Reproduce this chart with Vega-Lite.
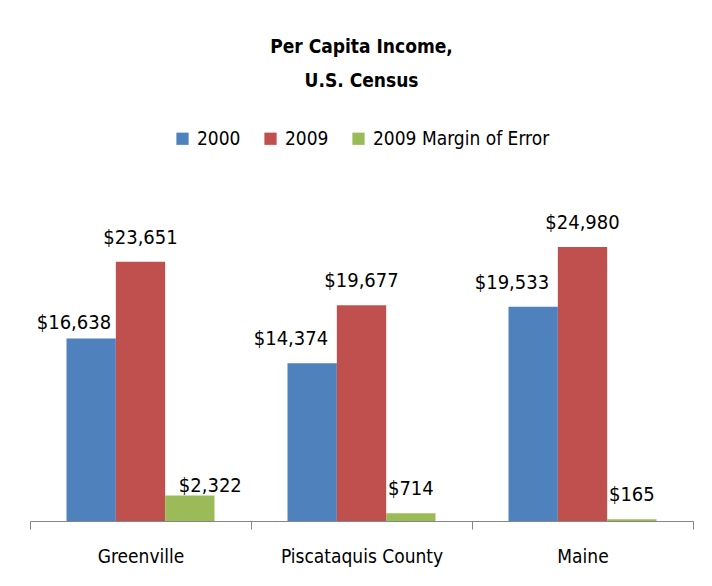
{
  "$schema": "https://vega.github.io/schema/vega-lite/v6.json",
  "width": 663,
  "height": 329,
  "autosize": {"type": "none"},
  "padding": {"left": 30, "top": 192, "right": 19, "bottom": 65},
  "background": "white",
  "title": {
    "text": ["Per Capita Income,", "U.S. Census"],
    "font": "DejaVu Sans Condensed",
    "fontSize": 19,
    "fontWeight": "bold",
    "color": "black",
    "lineHeight": 34,
    "anchor": "middle",
    "offset": 38
  },
  "data": {
    "values": [
      {"area": "Greenville", "series": "2000", "value": 16638},
      {"area": "Greenville", "series": "2009", "value": 23651},
      {"area": "Greenville", "series": "2009 Margin of Error", "value": 2322},
      {"area": "Piscataquis County", "series": "2000", "value": 14374},
      {"area": "Piscataquis County", "series": "2009", "value": 19677},
      {"area": "Piscataquis County", "series": "2009 Margin of Error", "value": 714},
      {"area": "Maine", "series": "2000", "value": 19533},
      {"area": "Maine", "series": "2009", "value": 24980},
      {"area": "Maine", "series": "2009 Margin of Error", "value": 165}
    ]
  },
  "encoding": {
    "x": {
      "field": "area",
      "type": "nominal",
      "sort": ["Greenville", "Piscataquis County", "Maine"],
      "scale": {"paddingInner": 0, "paddingOuter": 0},
      "axis": {
        "title": null,
        "labelAngle": 0,
        "labelFont": "DejaVu Sans Condensed",
        "labelFontSize": 19,
        "labelColor": "black",
        "labelPadding": 18,
        "labelLimit": 300,
        "domainColor": "#868686",
        "tickColor": "#868686",
        "tickSize": 8,
        "tickBand": "extent"
      }
    },
    "xOffset": {
      "field": "series",
      "type": "nominal",
      "sort": ["2000", "2009", "2009 Margin of Error"],
      "scale": {"paddingInner": 0, "paddingOuter": 0.74}
    },
    "y": {
      "field": "value",
      "type": "quantitative",
      "scale": {"domain": [0, 30000], "nice": false},
      "axis": null
    }
  },
  "layer": [
    {
      "mark": {"type": "bar"},
      "encoding": {
        "color": {
          "field": "series",
          "type": "nominal",
          "scale": {
            "domain": ["2000", "2009", "2009 Margin of Error"],
            "range": ["#4F81BD", "#C0504D", "#9BBB59"]
          },
          "legend": {
            "title": null,
            "orient": "top",
            "direction": "horizontal",
            "offset": 43,
            "labelFont": "DejaVu Sans Condensed",
            "labelFontSize": 19,
            "labelColor": "black",
            "labelLimit": 400,
            "symbolType": "square",
            "symbolSize": 150,
            "symbolStrokeWidth": 0,
            "labelOffset": 5,
            "columnPadding": 20
          }
        }
      }
    },
    {
      "transform": [{"filter": "datum.series !== '2000' && !(datum.series === '2009 Margin of Error' && datum.area === 'Greenville')"}],
      "mark": {"type": "text", "baseline": "alphabetic", "dy": -18, "font": "DejaVu Sans Condensed", "fontSize": 20, "color": "black"},
      "encoding": {"text": {"field": "value", "type": "quantitative", "format": "$,d"}}
    },
    {
      "transform": [{"filter": "datum.series === '2000' && datum.area !== 'Greenville'"}],
      "mark": {"type": "text", "baseline": "alphabetic", "align": "right", "dy": -18, "dx": 16, "font": "DejaVu Sans Condensed", "fontSize": 20, "color": "black"},
      "encoding": {"text": {"field": "value", "type": "quantitative", "format": "$,d"}}
    },
    {
      "transform": [{"filter": "datum.series === '2000' && datum.area === 'Greenville'"}],
      "mark": {"type": "text", "baseline": "alphabetic", "align": "right", "dy": -10, "dx": 20, "font": "DejaVu Sans Condensed", "fontSize": 20, "color": "black"},
      "encoding": {"text": {"field": "value", "type": "quantitative", "format": "$,d"}}
    },
    {
      "transform": [{"filter": "datum.series === '2009 Margin of Error' && datum.area === 'Greenville'"}],
      "mark": {"type": "text", "baseline": "alphabetic", "align": "left", "dy": -4, "dx": -11, "font": "DejaVu Sans Condensed", "fontSize": 20, "color": "black"},
      "encoding": {"text": {"field": "value", "type": "quantitative", "format": "$,d"}}
    }
  ],
  "config": {
    "view": {"stroke": null},
    "legend": {"layout": {"top": {"anchor": "middle"}}}
  }
}
